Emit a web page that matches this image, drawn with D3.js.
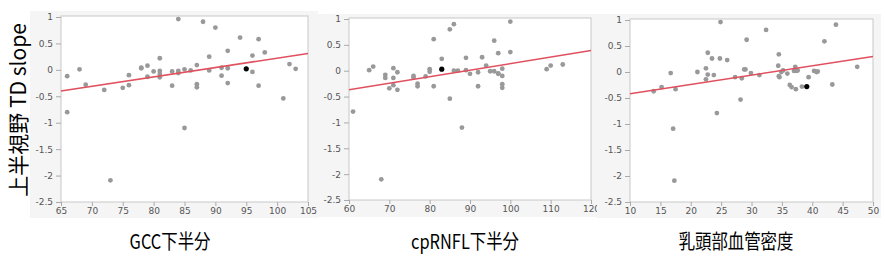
<!DOCTYPE html>
<html><head><meta charset="utf-8">
<script src="https://cdn.jsdelivr.net/npm/d3@7"></script>
<style>
body{margin:0;background:#fff;}
svg{display:block;}
.tick text{font-family:"DejaVu Sans",sans-serif;font-size:9px;fill:#555;}
</style></head>
<body>
<svg id="c" width="885" height="260"></svg>
<script>
// ---- data ----
const yTicks = [1, 0.5, 0, -0.5, -1, -1.5, -2, -2.5];
const yTickLabels = ["1", "0.5", "0", "-0.5", "-1", "-1.5", "-2", "-2.5"];
const yTitle = "上半視野 TD slope";

const gccTicks = [65, 70, 75, 80, 85, 90, 95, 100, 105];
const gccX = [66,66,68,69,72,73,75,76,76,78,78,79,79,80,81,81,81,81,83,83,84,84,84,85,85,86,87,87,87,88,89,89,90,91,91,92,92,92,94,96,96,97,97,98,101,102,103];
const gccY = [-0.12,-0.80,0.01,-0.28,-0.38,-2.09,-0.34,-0.10,-0.29,0.04,0.03,0.08,-0.13,-0.03,0.22,-0.02,-0.08,-0.14,-0.03,-0.30,0.96,-0.02,-0.06,-1.10,0.01,-0.01,0.09,-0.27,-0.33,0.91,0.25,-0.01,0.80,0.04,-0.11,0.36,0.03,-0.25,0.61,0.27,-0.04,0.58,-0.30,0.33,-0.54,0.11,0.02];
const gccHighlight = [95, 0.02];
const gccFitX = [65, 105];
const gccFitY = [-0.40, 0.31];

const rnflTicks = [60, 70, 80, 90, 100, 110, 120];
const rnflX = [61,65,66,68,69,69,70,71,71,71,72,72,76,76,77,77,79,80,80,81,81,83,85,85,86,86,87,88,89,89,90,92,92,93,94,95,96,96,97,97,97,98,98,98,98,100,100,109,110,113];
const rnflY = [-0.79,0.01,0.08,-2.10,-0.08,-0.14,-0.34,0.05,-0.14,-0.28,-0.03,-0.37,-0.10,-0.13,-0.25,-0.30,-0.11,0.03,-0.02,0.61,-0.30,0.23,0.80,-0.54,0.90,0.00,0.00,-1.10,0.25,0.01,-0.06,-0.03,-0.30,0.26,0.10,-0.01,0.58,-0.01,0.34,-0.05,-0.06,0.04,-0.10,-0.26,-0.33,0.95,0.36,0.03,0.10,0.12];
const rnflHighlight = [83, 0.03];
const rnflFitX = [60, 120];
const rnflFitY = [-0.37, 0.39];

const vdTicks = [10, 15, 20, 25, 30, 35, 40, 45, 50];
const vdX = [13.9,15.2,16.7,17.1,17.3,17.5,21.1,22.5,22.5,22.8,22.8,23.5,23.8,24.3,24.8,24.9,26.0,27.3,28.2,28.4,28.8,29.0,29.2,29.9,31.3,32.4,34.4,34.5,34.5,34.6,34.9,35.2,35.9,36.3,36.6,37.0,37.2,37.3,37.4,37.6,38.3,39.4,40.3,40.7,40.9,42.0,43.3,43.9,47.4];
const vdY = [-0.37,-0.29,-0.02,-1.09,-2.09,-0.33,0.00,0.07,-0.14,0.37,-0.05,0.26,-0.06,-0.79,0.26,0.96,0.23,-0.10,-0.53,-0.12,0.05,0.05,0.62,-0.02,-0.06,0.81,0.12,0.34,-0.08,-0.10,0.00,0.03,-0.03,-0.25,-0.29,0.02,0.10,-0.33,0.02,0.03,-0.28,-0.10,0.02,0.00,0.01,0.59,-0.24,0.91,0.10];
const vdHighlight = [39.1, -0.28];
const vdFitX = [10, 50];
const vdFitY = [-0.42, 0.30];

const xTitles = ["GCC下半分", "cpRNFL下半分", "乳頭部血管密度"];

// ---- layout ----
const svg = d3.select("#c");
const panels = [
  {bg:[30,11,288,207], l:61, r:308, t:17, b:202, dom:[65,105], ticks:gccTicks, xs:gccX, ys:gccY, hi:gccHighlight, fx:gccFitX, fy:gccFitY, title:xTitles[0], tx:170},
  {bg:[318,14,279,203], l:349, r:591, t:19, b:200, dom:[60,120], ticks:rnflTicks, xs:rnflX, ys:rnflY, hi:rnflHighlight, fx:rnflFitX, fy:rnflFitY, title:xTitles[1], tx:465},
  {bg:[597,14,284,204], l:630, r:873, t:20, b:202, dom:[10,50], ticks:vdTicks, xs:vdX, ys:vdY, hi:vdHighlight, fx:vdFitX, fy:vdFitY, title:xTitles[2], tx:736}
];

panels.forEach(p => {
  svg.append("rect").attr("x",p.bg[0]).attr("y",p.bg[1]).attr("width",p.bg[2]).attr("height",p.bg[3]).attr("fill","#f5f5f5");
  svg.append("rect").attr("x",p.l).attr("y",p.t-1).attr("width",p.r-p.l).attr("height",p.b-p.t+1).attr("fill","#fff").attr("stroke","#c8c8c8").attr("stroke-width",1);
  const x = d3.scaleLinear().domain(p.dom).range([p.l,p.r]);
  const y = d3.scaleLinear().domain([-2.5,1]).range([p.b,p.t]);
  const ya = svg.append("g").attr("transform",`translate(${p.l},0)`)
    .call(d3.axisLeft(y).tickValues(yTicks).tickFormat((d,i)=>yTickLabels[i]).tickSize(5).tickPadding(3));
  ya.select(".domain").remove();
  ya.selectAll(".tick line").attr("stroke","#aaa");
  const xa = svg.append("g").attr("transform",`translate(0,${p.b})`)
    .call(d3.axisBottom(x).tickValues(p.ticks).tickFormat(d3.format("d")).tickSize(4).tickPadding(2));
  xa.select(".domain").remove();
  xa.selectAll(".tick line").attr("stroke","#aaa");
  const g = svg.append("g");
  g.selectAll("circle").data(p.xs.map((v,i)=>[v,p.ys[i]])).join("circle")
    .attr("cx",d=>x(d[0])).attr("cy",d=>y(d[1])).attr("r",2.4).attr("fill","#999");
  g.append("line").attr("x1",x(p.fx[0])).attr("y1",y(p.fy[0])).attr("x2",x(p.fx[1])).attr("y2",y(p.fy[1]))
    .attr("stroke","#e0505e").attr("stroke-width",1.5);
  g.append("circle").attr("cx",x(p.hi[0])).attr("cy",y(p.hi[1])).attr("r",2.6).attr("fill","#000");
  svg.append("text").attr("transform",`translate(${p.tx},249) scale(0.82,1)`).attr("text-anchor","middle")
    .attr("font-family","'Noto Sans CJK JP',sans-serif").attr("font-size",20).attr("fill","#000").text(p.title);
});

svg.append("text").attr("transform","translate(26,110) rotate(-90)").attr("text-anchor","middle")
  .attr("font-family","'Noto Sans CJK JP',sans-serif").attr("font-size",21).attr("fill","#000").text(yTitle);
</script>
</body></html>
